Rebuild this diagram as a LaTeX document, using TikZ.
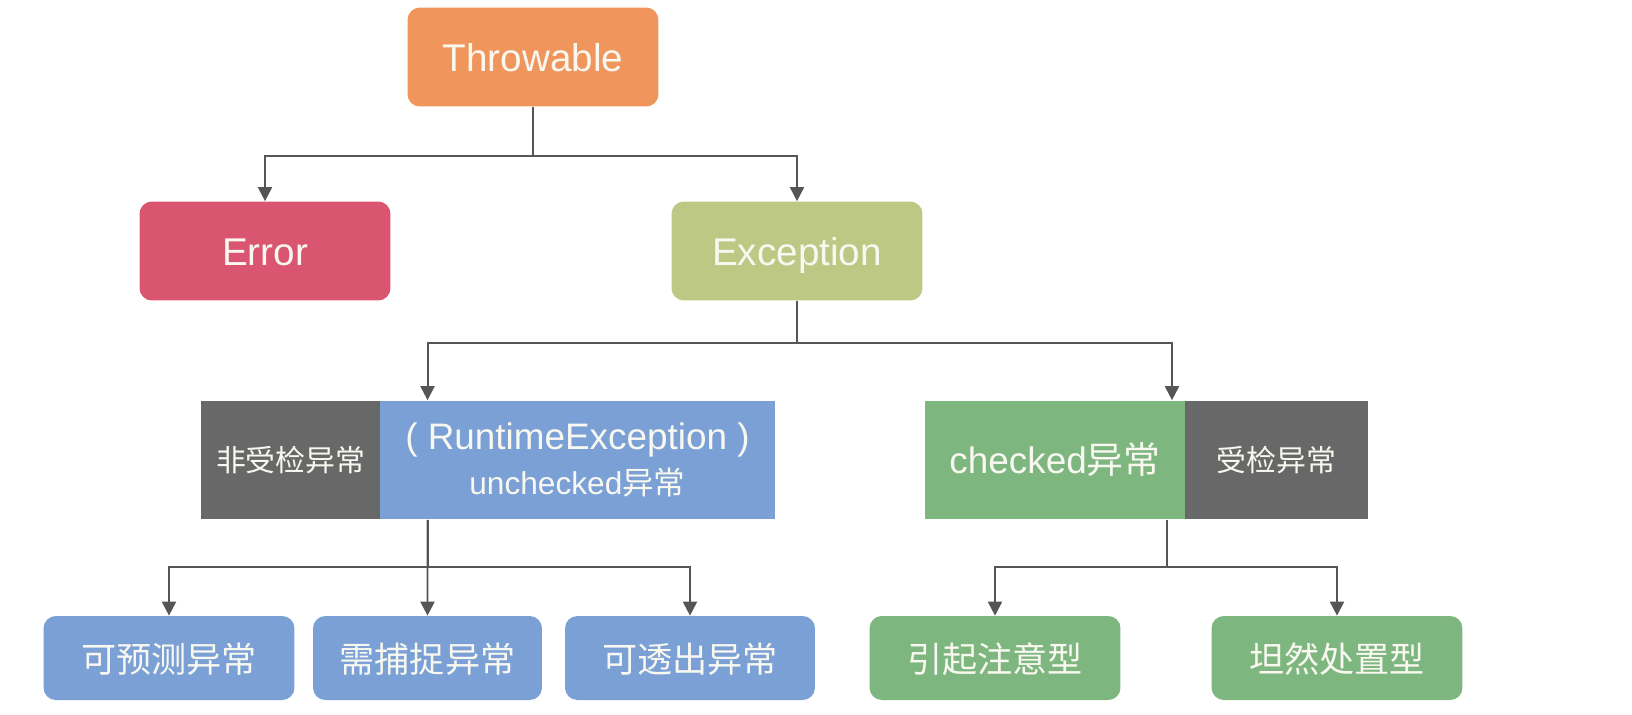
\documentclass[tikz,border=0pt]{standalone}
\usepackage{fontspec}
\setmainfont{Liberation Sans}
\newfontfamily\cjk{Noto Sans CJK SC}
\usetikzlibrary{arrows.meta,positioning}

\definecolor{thrcol}{RGB}{240,150,92}
\definecolor{errcol}{RGB}{218,86,112}
\definecolor{exccol}{RGB}{188,200,132}
\definecolor{unccol}{RGB}{122,160,214}
\definecolor{chkcol}{RGB}{126,182,128}
\definecolor{tagcol}{RGB}{104,104,104}
\definecolor{linecol}{RGB}{85,85,85}
\definecolor{txtcol}{RGB}{248,248,240}

\tikzset{
  box/.style={rounded corners=7pt, text=txtcol, inner sep=0pt,
    minimum width=5.02cm, minimum height=1.98cm, font=\fontsize{22}{26}\selectfont,
    text height=18pt, text depth=2pt},
  leaf/.style={box, minimum height=1.68cm, font=\fontsize{20}{24}\cjk},
  band/.style={inner sep=0pt, text=txtcol, minimum height=2.38cm},
  arr/.style={draw=linecol, line width=1.1pt, -{Triangle[width=8pt,length=8pt]}},
}

\begin{document}
\begin{tikzpicture}[x=0.02cm,y=-0.02cm]
    \useasboundingbox (0,0) rectangle (1632,714);

    \node[box,fill=thrcol] (1) at (533,57) {Throwable};
    \node[box,fill=errcol] (2) at (265,251) {Error};
    \node[box,fill=exccol] (3) at (797,251) {Exception};

    %% unchecked / checked
    \node[band,fill=unccol,minimum width=7.9cm,align=center,font=\fontsize{21}{26}\selectfont] (5) at (577.5,460)
      {( RuntimeException )\\{\fontsize{18}{22}\selectfont unchecked{\cjk 异常}}};
    \node[band,fill=tagcol,minimum width=3.58cm,left=-0.5pt of 5,font=\fontsize{17}{20}\cjk] (4) {非受检异常};
    \node[band,fill=chkcol,minimum width=5.2cm,font=\fontsize{21}{24}\selectfont] (6) at (1055,460) {checked{\cjk 异常}};
    \node[band,fill=tagcol,minimum width=3.66cm,right=-0.5pt of 6,font=\fontsize{17}{20}\cjk] (7) {受检异常};

    %% leaves
    \node[leaf,fill=unccol] (8) at (169,658) {可预测异常};
    \node[leaf,fill=unccol,minimum width=4.58cm] (9) at (427.5,658) {需捕捉异常};
    \node[leaf,fill=unccol,minimum width=5.0cm] (10) at (690,658) {可透出异常};
    \node[leaf,fill=chkcol] (11) at (995,658) {引起注意型};
    \node[leaf,fill=chkcol] (12) at (1337,658) {坦然处置型};

    %% Throwable
    \draw[arr] (1.south) -- ++(0,49) -| (2.north);
    \draw[arr] (1.south) -- ++(0,49) -| (3.north);
    %% Exception
    \draw[arr] (3.south) -- ++(0,42) -| ([xshift=-3cm]5.north);
    \draw[arr] (3.south) -- ++(0,42) -| ([xshift=2.34cm]6.north);
    %% unchecked
    \draw[arr] ([xshift=-3cm]5.south) -- ++(0,47) -| (8.north);
    \draw[arr] ([xshift=-3cm]5.south) -- (9.north);
    \draw[arr] ([xshift=-3cm]5.south) -- ++(0,47) -| (10.north);
    %% checked
    \draw[arr] ([xshift=2.24cm]6.south) -- ++(0,47) -| (11.north);
    \draw[arr] ([xshift=2.24cm]6.south) -- ++(0,47) -| (12.north);
\end{tikzpicture}
\end{document}
